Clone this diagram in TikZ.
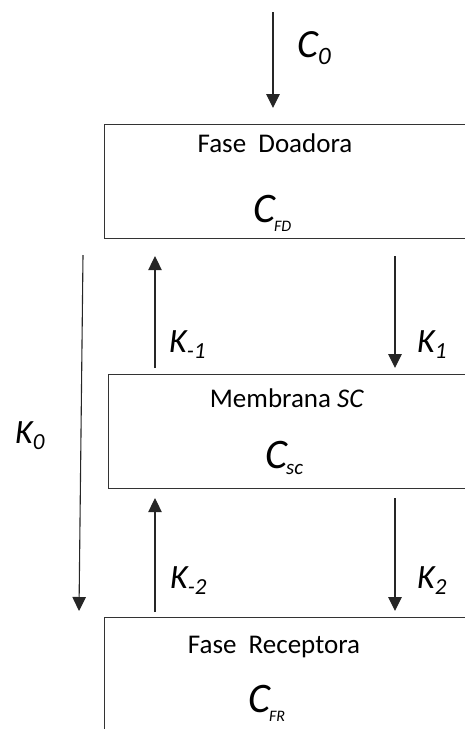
\documentclass[tikz,border=0pt]{standalone}
\usepackage{fontspec}
\setmainfont{Carlito}
\usetikzlibrary{arrows.meta}
\newcommand{\conc}[3][16]{\textit{\fontsize{42}{46}\selectfont C\kern-1pt\raisebox{-#3}{\fontsize{#1}{#1}\selectfont #2}}}
\newcommand{\rate}[1]{\textit{\fontsize{34}{38}\selectfont K\raisebox{-6pt}{\fontsize{23}{24}\selectfont #1}}}
\begin{document}
\begin{tikzpicture}[x=1pt,y=-1pt,
  box/.style={draw=black!80,line width=1.1pt,anchor=north west,minimum width=420pt,inner sep=0pt},
  flow/.style={draw=black!85,line width=1.1pt,-{Triangle[width=13.5pt,length=14pt]}},
  title/.style={anchor=base,inner sep=0pt,font=\fontsize{27}{30}\selectfont},
  sym/.style={anchor=base west,inner sep=0pt}]
\useasboundingbox (0,0) rectangle (465,729);
\clip (0,0) rectangle (465,729);
% compartments
\node[box,minimum height=114pt] (fd) at (104,124) {};
\node[box,minimum height=114pt] (sc) at (108,374) {};
\node[box,minimum height=150pt] (fr) at (104,617) {};
\node[title] (fd-title) at (275,152) {Fase~~Doadora};
\node[title] (sc-title) at (287,407) {Membrana \textit{SC}};
\node[title] (fr-title) at (274,653) {Fase~~Receptora};
\node[sym] (fd-c) at (253,222) {\conc{FD}{9pt}};
\node[sym] (sc-c) at (265,468) {\conc[21]{sc}{6pt}};
\node[sym] (fr-c) at (248,712) {\conc{FR}{9pt}};
% fluxes
\coordinate (in) at (273,12);
\coordinate (up) at (155,0);
\coordinate (down) at (395,0);
\coordinate (k0a) at (83,255);
\coordinate (k0b) at (79,611);
\draw[flow,shorten >=16pt] (in) -- (in |- fd.north);
\draw[flow,shorten <=17pt,shorten >=6pt] (fd.south -| down) -- (sc.north -| down);
\draw[flow,shorten <=6pt,shorten >=17pt] (sc.north -| up) -- (fd.south -| up);
\draw[flow,shorten <=9pt,shorten >=6pt] (sc.south -| down) -- (fr.north -| down);
\draw[flow,shorten <=5pt,shorten >=9pt] (fr.north -| up) -- (sc.south -| up);
\draw[flow] (k0a) -- (k0b);
\node[sym] (c0) at (297,57) {\textit{\fontsize{40}{44}\selectfont C\raisebox{-7pt}{\fontsize{25}{26}\selectfont 0}}};
\node[sym] (km1) at (169,352) {\rate{-1}};
\node[sym] (k1) at (417,352) {\rate{1}};
\node[sym] (k0) at (15,443) {\rate{0}};
\node[sym] (km2) at (170,588) {\rate{-2}};
\node[sym] (k2) at (417,588) {\rate{2}};
\end{tikzpicture}
\end{document}
